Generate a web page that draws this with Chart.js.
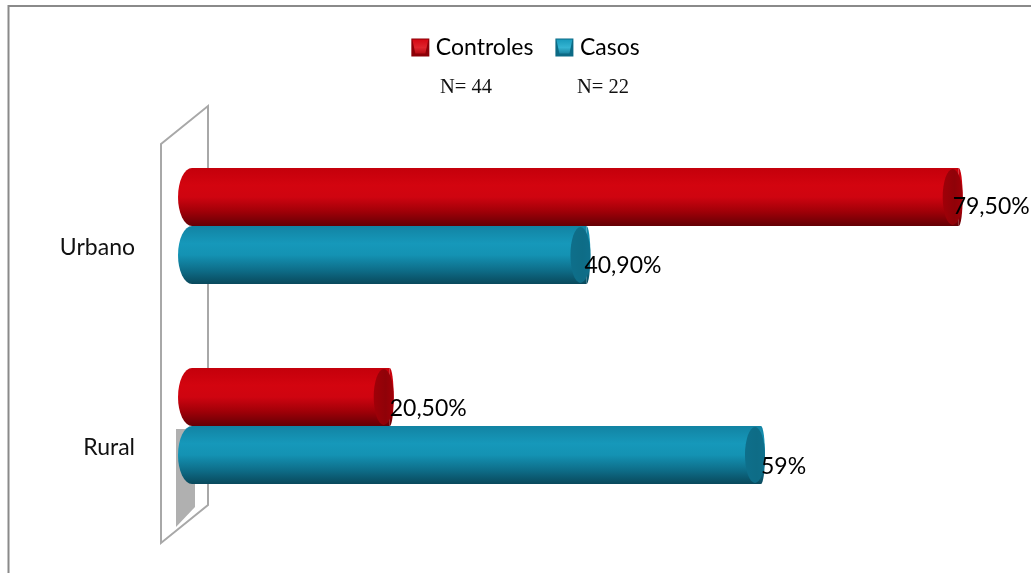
<!DOCTYPE html>
<html><head><meta charset="utf-8">
<style>html,body{margin:0;padding:0;background:#fff}#w{position:relative;width:1031px;height:573px;overflow:hidden}canvas{display:block;filter:blur(0.45px)}</style>
<script src="https://cdn.jsdelivr.net/npm/chart.js@4/dist/chart.umd.min.js"></script>
</head><body><div id="w"><canvas id="c" width="1031" height="573"></canvas></div>
<script>
const categories = ["Urbano", "Rural"];
const controles = [79.5, 20.5];
const casos = [40.9, 59];
const controlesLabels = ["79,50%", "20,50%"];
const casosLabels = ["40,90%", "59%"];
const seriesNames = ["Controles", "Casos"];
const notes = ["N= 44", "N= 22"];

const FONT = "Lato, Carlito, 'Open Sans', sans-serif";
const RED = {stops:["#c4000b","#d3040f","#cf0410","#a00008","#640005"], cap:"#8f0208", light:"#e0242c", dark:"#8c0007"};
const TEAL = {stops:["#1283a3","#1698ba","#1492b3","#0e6f8b","#09495c"], cap:"#0e6c86", light:"#35b4d2", dark:"#0c6a85"};
const CATP = 0.58;
const CAP = 14;

function gradient(ctx, top, bottom, c){
  const g = ctx.createLinearGradient(0, top, 0, bottom);
  [0,0.3,0.5,0.75,1].forEach((p,i)=>g.addColorStop(p,c.stops[i]));
  return g;
}
function barFill(c, di){
  return (sc)=>{
    const ch = sc.chart, y = ch.scales.y;
    if(!y || sc.dataIndex===undefined || y.ticks.length<2) return c.stops[1];
    const h = (y.getPixelForTick(1)-y.getPixelForTick(0))*CATP/2;
    const center = y.getPixelForTick(sc.dataIndex);
    const top = di===0 ? center-h : center;
    return gradient(ch.ctx, top, top+h, c);
  };
}
const decor = {
  id:'decor',
  beforeInit(ch){
    const fit = ch.legend.fit;
    ch.legend.fit = function(){ fit.call(this); this.height += 57; };
  },
  beforeDatasetsDraw(ch){
    const {ctx, chartArea:a} = ch;
    ctx.save();
    // side wall of the 3D plot
    ctx.strokeStyle = '#a8a8a8'; ctx.lineWidth = 2; ctx.lineJoin='miter';
    const x0 = a.left-31, x1 = a.left+16, t = a.top-20, b = a.bottom+17;
    ctx.beginPath();
    ctx.moveTo(x0,t+38); ctx.lineTo(x1,t); ctx.lineTo(x1,b-38); ctx.lineTo(x0,b); ctx.closePath();
    ctx.stroke();
    // bar shadow on the wall
    ctx.fillStyle = '#b0b0b0';
    ctx.beginPath();
    ctx.moveTo(a.left-16,a.top+303); ctx.lineTo(a.left+3,a.top+303); ctx.lineTo(a.left+3,a.bottom-19);
    ctx.lineTo(a.left-16,a.bottom+1); ctx.closePath(); ctx.fill();
    ctx.restore();
  },
  afterDatasetsDraw(ch){
    const {ctx} = ch;
    ch.data.datasets.forEach((ds,di)=>{
      const c = di===0?RED:TEAL;
      ch.getDatasetMeta(di).data.forEach((el)=>{
        const {x,y,base,height} = el.getProps(['x','y','base','height'],true);
        const g = gradient(ctx,y-height/2,y+height/2,c);
        ctx.save();
        ctx.fillStyle = g;
        ctx.beginPath();
        ctx.ellipse(base,y,CAP,height/2,0,Math.PI/2,Math.PI*1.5);
        ctx.fill();
        ctx.beginPath();
        ctx.ellipse(x,y,4,height/2,0,-Math.PI/2,Math.PI/2);
        ctx.fill();
        const e = ctx.createLinearGradient(x-16,0,x+4,0);
        e.addColorStop(0,c.stops[3]); e.addColorStop(0.6,c.cap); e.addColorStop(1,c.stops[3]);
        ctx.fillStyle = e;
        ctx.beginPath();
        ctx.ellipse(x-6,y,10,height/2-1,0,0,Math.PI*2);
        ctx.fill();
        ctx.restore();
      });
    });
    // value labels
    ctx.save();
    ctx.fillStyle = '#000'; ctx.font = '23px '+FONT; ctx.textBaseline='middle'; ctx.textAlign='left';
    const sets = [controlesLabels, casosLabels];
    const nudge = [[[-6,10],[0,12]],[[-2,11],[0,12]]];
    ch.data.datasets.forEach((ds,di)=>{
      ch.getDatasetMeta(di).data.forEach((el,i)=>{
        ctx.fillText(sets[di][i], el.x+nudge[di][i][0], el.y+nudge[di][i][1]);
      });
    });
    // sample sizes under the legend
    ctx.fillStyle = '#111'; ctx.font = "20.5px 'Liberation Serif', serif";
    ctx.fillText(notes[0],440,88);
    ctx.fillText(notes[1],577,88);
    // legend keys
    ch.legend.legendHitBoxes.forEach((h,i)=>{
      const c = i===0?RED:TEAL, bx=h.left, by=h.top+h.height/2-9, s=18;
      ctx.fillStyle = c.dark; ctx.fillRect(bx,by,s,s);
      const g = ctx.createLinearGradient(0,by,0,by+s);
      g.addColorStop(0,c.stops[1]); g.addColorStop(0.5,c.light); g.addColorStop(1,c.stops[3]);
      ctx.fillStyle = g;
      ctx.beginPath();
      ctx.moveTo(bx+1,by+1); ctx.lineTo(bx+s-1,by+1); ctx.lineTo(bx+s-4,by+s-3); ctx.lineTo(bx+4,by+s-3); ctx.closePath();
      ctx.fill();
    });
    // outer frame
    ctx.strokeStyle='#8a8a8a'; ctx.lineWidth=2;
    ctx.beginPath(); ctx.moveTo(8.5,573); ctx.lineTo(8.5,6); ctx.lineTo(1031,6); ctx.stroke();
    ctx.restore();
  }
};
Chart.defaults.animation = false;
new Chart(document.getElementById('c'),{
  type:'bar',
  data:{labels:categories,datasets:[
    {label:seriesNames[0],data:controles,backgroundColor:barFill(RED,0),borderWidth:0,categoryPercentage:CATP,barPercentage:1},
    {label:seriesNames[1],data:casos,backgroundColor:barFill(TEAL,1),borderWidth:0,categoryPercentage:CATP,barPercentage:1}
  ]},
  options:{
    indexAxis:'y',responsive:false,animation:false,
    layout:{padding:{left:20,right:0,top:14,bottom:47}},
    plugins:{
      tooltip:{enabled:false},
      legend:{display:true,position:'top',align:'center',
        labels:{font:{family:FONT,size:23},color:'#111',boxWidth:13,boxHeight:13,padding:22,
          generateLabels(){return seriesNames.map((t,i)=>({text:t,fillStyle:'rgba(0,0,0,0)',strokeStyle:'rgba(0,0,0,0)',lineWidth:0,datasetIndex:i}))}}
      }
    },
    scales:{
      x:{display:false,min:0,max:87},
      y:{grid:{display:false,drawTicks:false},border:{display:false},
         ticks:{color:'#111',font:{family:FONT,size:23},padding:57,autoSkip:false,labelOffset:22},
         afterFit(s){s.width=172;s.paddingTop=0;s.paddingBottom=0}}
    }
  },
  plugins:[decor]
});
</script></body></html>
